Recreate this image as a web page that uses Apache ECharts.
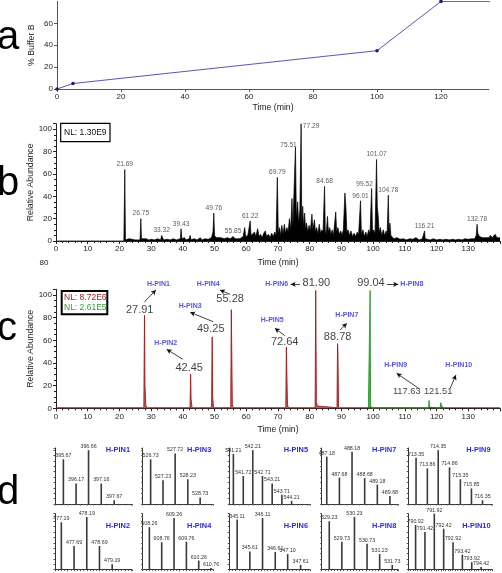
<!DOCTYPE html>
<html><head><meta charset="utf-8">
<script src="https://cdn.jsdelivr.net/npm/echarts@6/dist/echarts.min.js"></script>
<style>html,body{margin:0;padding:0;background:#fff}#c{width:502px;height:573px}</style>
</head><body><div id="c"></div>
<script>
// ---------- Panel a: gradient (% Buffer B vs time) ----------
const gradientTime = [0, 5, 100, 120, 140];
const gradientB = [0, 5, 35, 80, 80];

// ---------- Panel b: base peak chromatogram [time, relative abundance] ----------
const bpcPoints = [[0,0],[21.4,0],[21.69,64],[21.9,1],[22.5,1],[23,2],[23.4,1],[24,1.5],[25,1],[26.5,1],[26.75,20],[26.95,2],[27.5,1],[28.5,2],[29.2,1],[30,1.5],[31,1],[32,2],[33,1],[33.32,5],[33.6,3],[34,1],[35,1.5],[36,1],[37,2],[38,1],[39.2,2],[39.43,11],[39.7,2],[40.5,3],[41,1],[42,2],[42.3,5],[42.6,1],[43.5,2],[44.5,1],[45.5,3],[46,1],[47,2],[48,1.5],[49,3],[49.5,8],[49.76,25],[50,5],[50.5,3],[51,2],[52,3],[53,2],[54,3],[55,2],[55.85,4],[56.5,2],[57,3],[58,2],[59,4],[59.5,12],[59.8,4],[60.5,5],[61.22,18],[61.5,5],[62,4],[62.6,8],[63,4],[63.6,11],[64,4],[64.5,6],[65,3],[65.5,7],[66,9],[66.4,4],[67,6],[67.5,3],[68,7],[68.5,4],[69,8],[69.4,5],[69.79,57],[70.1,6],[70.5,12],[70.8,5],[71.2,14],[71.6,6],[72,15],[72.4,7],[72.8,12],[73.2,8],[73.6,20],[74,10],[74.4,38],[74.7,12],[75.2,58],[75.51,84],[75.8,20],[76.2,35],[76.5,15],[76.9,28],[77.29,105],[77.5,15],[77.8,31],[78.1,12],[78.4,25],[78.7,10],[79,16],[79.4,8],[79.8,14],[80.2,9],[80.7,24],[81,10],[81.5,19],[81.8,8],[82.2,12],[82.6,6],[83,15],[83.4,7],[83.8,10],[84.2,8],[84.68,49],[84.9,10],[85.2,6],[85.6,22],[85.9,8],[86.3,12],[86.7,6],[87.1,10],[87.5,5],[88.2,26],[88.5,8],[88.9,12],[89.3,6],[89.8,9],[90.2,5],[90.6,10],[91.1,43],[91.4,31],[91.7,8],[92.1,10],[92.5,5],[93,9],[93.5,4],[94,7],[94.5,4],[95,8],[95.4,5],[96.01,36],[96.3,6],[96.8,10],[97.2,4],[97.7,8],[98.1,4],[98.6,10],[99,6],[99.52,47],[99.8,8],[100.2,10],[100.6,6],[101.07,73],[101.3,31],[101.6,22],[101.9,8],[102.3,12],[102.7,5],[103.2,10],[103.6,5],[104.1,9],[104.4,6],[104.78,41],[105,8],[105.3,16],[105.6,5],[106,6],[106.5,2],[107.5,3],[108.5,1.5],[109.5,2],[110.5,1],[111.5,2],[112.5,1.5],[113.5,3],[114.5,1],[115.5,2],[116,1],[116.21,9],[116.4,2],[117,2],[118,1],[119,2],[120,1],[121,1.5],[122,1],[123,1.5],[124,1],[125,1.5],[126,1],[127,1.5],[128,1],[129,2],[130,1.5],[131,2],[132,2],[132.5,5],[132.78,15],[133,7],[133.5,4],[134,5],[134.5,3],[135,4],[135.5,3],[136,4],[136.5,3],[137,5],[137.5,3],[138,4],[138.5,6],[139,3],[140,3]];
const bpcLabelTimes = [21.69, 26.75, 33.32, 39.43, 49.76, 55.85, 61.22, 69.79, 75.51, 77.29, 84.68, 96.01, 99.52, 101.07, 104.78, 116.21, 132.78];
const bpcNL = 'NL: 1.30E9';

// ---------- Panel c: extracted ion chromatograms ----------
const redPoints = [[0,0.5],[27.7,0.5],[27.91,82],[28.05,20],[28.3,3],[28.6,0.5],[42.25,0.5],[42.45,30],[42.6,8],[42.9,0.5],[45.0,0.5],[45.15,2],[45.3,0.5],[49.05,0.5],[49.25,63],[49.4,10],[49.7,0.5],[55.1,0.5],[55.28,87],[55.42,50],[55.6,3],[55.9,0.5],[72.45,0.5],[72.64,54],[72.8,30],[73.0,3],[73.3,0.5],[81.7,0.5],[81.9,104],[82.1,6],[82.4,2],[82.8,0.5],[88.6,0.5],[88.78,57],[88.9,49],[89.1,0.5],[140,0.5]];
const greenPoints = [[98.5,0],[98.85,0],[99.04,104],[99.2,3],[99.5,0],[117.45,0],[117.63,7],[117.8,1],[118.0,0],[121.1,0],[121.3,5],[121.51,6],[121.7,2],[122.0,0],[122.5,0]];
const xicPeakTimes = ['27.91','42.45','49.25','55.28','72.64','81.90','88.78','99.04','117.63','121.51'];
const xicPeakNames = ['H-PIN1','H-PIN2','H-PIN3','H-PIN4','H-PIN5','H-PIN6','H-PIN7','H-PIN8','H-PIN9','H-PIN10'];
const xicNL = ['NL: 8.72E6', 'NL: 2.61E5'];

// ---------- Panel d: isotope envelopes (m/z, relative intensity) ----------
const pin1Mz = [395.67, 396.17, 396.66, 397.16, 397.67];            const pin1Int = [83, 38, 100, 38, 7];
const pin2Mz = [477.19, 477.69, 478.19, 478.69, 479.19];            const pin2Int = [88, 44, 98, 44, 10];
const pin3Mz = [526.73, 527.23, 527.72, 528.23, 528.73];            const pin3Int = [83, 44, 94, 46, 12];
const pin4Mz = [608.26, 608.76, 609.26, 609.76, 610.26, 610.76];    const pin4Int = [79, 51, 96, 52, 17, 3];
const pin5Mz = [541.21, 541.72, 542.21, 542.71, 543.21, 543.71, 544.21]; const pin5Int = [93, 52, 100, 52, 38, 17, 6];
const pin6Mz = [345.11, 345.61, 346.11, 346.61, 347.10, 347.61];    const pin6Int = [93, 34, 96, 33, 29, 9];
const pin7Mz = [487.18, 487.68, 488.18, 488.68, 489.18, 489.68];    const pin7Int = [88, 49, 97, 48, 36, 15];
const pin8Mz = [529.23, 529.73, 530.23, 530.73, 531.23, 531.73];    const pin8Int = [90, 52, 98, 48, 29, 9];
const pin9Mz = [713.35, 713.86, 714.35, 714.86, 715.35, 715.85, 716.35]; const pin9Int = [86, 66, 100, 68, 46, 29, 7];
const pin10Mz = [790.92, 791.42, 791.92, 792.42, 792.92, 793.42, 793.92, 794.42]; const pin10Int = [83, 70, 104, 76, 51, 28, 14, 5];

// ---------- layout / styling (not data) ----------
const FONT = '"Liberation Sans", Arial, Helvetica, sans-serif';
const AX = '#222';
const RED = '#a01c1c', GREEN = '#2e9a2e', BLUE = '#2b2bd6';
const cNumberAt = [[26.4,86.8],[42.0,35.3],[48.8,70.0],[54.9,96.5],[72.1,58.8],[82.1,110.3],[88.8,63.2],[99.3,110.3],[110.6,14.7],[120.5,14.7]];
const cNumberSize = [11,11,11,11,11,11,11,11,9.3,9.3];
const cNameAt = [[32.3,109.4],[34.6,57.4],[42.3,90.6],[48.0,109.4],[68.2,77.9],[69.6,109.4],[91.7,82.3],[112.2,109.4],[107.1,38.2],[127.0,38.2]];
const cArrowFrom = [[27.8,93.6],[40.0,43.2],[49.6,76.4],[54.9,100.6],[72.2,64.1],[76.9,109.4],[89.6,69.1],[104.3,109.4],[114.3,17.7],[124.3,17.7]];
const cArrowTo = [[31.5,104.4],[34.9,52.1],[42.3,84.7],[51.7,104.4],[69.0,70.6],[74.0,109.4],[91.7,75.0],[107.9,109.4],[107.4,30.9],[126.1,29.4]];
const bLabelOffset = {'75.51':[-7,3], '77.29':[10,7], '99.52':[-7,1]};
const dCols = [[55,132],[142.7,213.3],[229.3,310],[321.7,398.3],[408.3,492.5]];
const dRows = [[448,504],[513.7,569.7]];
const dRanges = [[395.34,398.37],[476.94,479.97],[526.41,529.26],[607.99,610.85],[541.0,545.16],[344.8,347.98],[486.98,490.01],[528.93,531.97],[713.0,716.8],[790.53,795.03]];

const chart = echarts.init(document.getElementById('c'), null, {renderer:'canvas'});
const grids = [], xAxes = [], yAxes = [], series = [], graphics = [];
function addGrid(g){ grids.push(Object.assign({outerBoundsMode:'none', containLabel:false, show:false}, g)); return grids.length-1; }
const lbl = (o) => Object.assign({fontSize:8, color:'#222', fontFamily:FONT}, o||{});
const nameStyle = {fontSize:8.7, color:'#222', fontFamily:FONT};

// ---- Panel a ----
const ga = addGrid({left:57, top:1.4, width:432, height:87.6});
xAxes.push({type:'value', gridIndex:ga, min:0, max:135, interval:20,
  axisLine:{lineStyle:{color:'#555'}}, axisTick:{length:3, lineStyle:{color:'#555'}},
  axisLabel:lbl({margin:4, showMaxLabel:false}), splitLine:{show:false},
  name:'Time (min)', nameLocation:'middle', nameGap:14, nameMoveOverlap:false, nameTextStyle:nameStyle});
yAxes.push({type:'value', gridIndex:ga, min:0, max:80, interval:20,
  axisLine:{show:true, lineStyle:{color:'#555'}}, axisTick:{show:true, length:3, lineStyle:{color:'#555'}},
  axisLabel:lbl({margin:4, showMaxLabel:false}), splitLine:{show:false},
  name:'% Buffer B', nameLocation:'middle', nameGap:21, nameMoveOverlap:false, nameTextStyle:nameStyle});
series.push({type:'line', xAxisIndex:xAxes.length-1, yAxisIndex:yAxes.length-1, clip:true,
  data: gradientTime.map((t,i)=>[t, gradientB[i]]),
  lineStyle:{color:'#5757b0', width:1}, symbol:'circle', symbolSize:3.5,
  itemStyle:{color:'#1a1a78'}, silent:true});

function timeX(gi, show){
  return {type:'value', gridIndex:gi, min:0, max:140, interval:10, show:show,
    axisLine:{lineStyle:{color:AX}}, axisTick:{length:3, lineStyle:{color:AX}},
    minorTick:{show:true, splitNumber:5, length:2, lineStyle:{color:AX}},
    axisLabel:lbl({margin:4, showMaxLabel:false}), splitLine:{show:false}, minorSplitLine:{show:false},
    name:'Time (min)', nameLocation:'middle', nameGap:17, nameMoveOverlap:false, nameTextStyle:nameStyle};
}
function abundY(gi){
  return {type:'value', gridIndex:gi, min:0, max:105, interval:20,
    axisLine:{show:true, lineStyle:{color:AX}}, axisTick:{show:true, length:3, lineStyle:{color:AX}},
    minorTick:{show:true, splitNumber:4, length:2, lineStyle:{color:AX}},
    axisLabel:lbl({margin:4, showMaxLabel:false}), splitLine:{show:false}, minorSplitLine:{show:false},
    name:'Relative Abundance', nameLocation:'middle', nameGap:21, nameMoveOverlap:false, nameTextStyle:nameStyle};
}

// ---- Panel b ----
const gb = addGrid({left:56, top:123.7, width:444, height:117.3});
xAxes.push(timeX(gb, true)); yAxes.push(abundY(gb));
const bx = xAxes.length-1, by = yAxes.length-1;
series.push({type:'line', xAxisIndex:bx, yAxisIndex:by, data:bpcPoints, symbol:'none', silent:true,
  lineStyle:{color:'#000', width:0.7}, areaStyle:{color:'#000', opacity:1}});
series.push({type:'scatter', xAxisIndex:bx, yAxisIndex:by, symbolSize:1, itemStyle:{color:'rgba(0,0,0,0)'}, silent:true, clip:false,
  data: bpcLabelTimes.map(t=>{
    const p = bpcPoints.find(q=>Math.abs(q[0]-t)<1e-6);
    const key = t.toFixed(2);
    const it = {name:key, value:[t, p ? p[1] : 0]};
    if (bLabelOffset[key]) it.label = {offset:bLabelOffset[key]};
    return it;
  }),
  label:{show:true, position:'top', distance:1, formatter:'{b}', fontSize:6.6, color:'#333', fontFamily:FONT}});

// ---- Panel c ----
const gc = addGrid({left:56, top:289.3, width:444, height:119});
xAxes.push(timeX(gc, true)); yAxes.push(abundY(gc));
const cx = xAxes.length-1, cy = yAxes.length-1;
series.push({type:'line', xAxisIndex:cx, yAxisIndex:cy, data:greenPoints, symbol:'none', silent:true,
  lineStyle:{color:GREEN, width:0.9}, areaStyle:{color:GREEN, opacity:0.85}});
series.push({type:'line', xAxisIndex:cx, yAxisIndex:cy, data:redPoints, symbol:'none', silent:true,
  lineStyle:{color:RED, width:0.9}, areaStyle:{color:'#b43a3a', opacity:0.85}});

const gca = addGrid({left:56, top:278.0, width:444, height:130.3});
xAxes.push({type:'value', gridIndex:gca, min:0, max:140, show:false});
yAxes.push({type:'value', gridIndex:gca, min:0, max:115, show:false});
const ax = xAxes.length-1, ay = yAxes.length-1;
series.push({type:'scatter', xAxisIndex:ax, yAxisIndex:ay, symbolSize:1, clip:false, silent:true,
  itemStyle:{color:'rgba(0,0,0,0)'},
  data: xicPeakTimes.map((t,i)=>({name:t, value:cNumberAt[i], label:{fontSize:cNumberSize[i]}})),
  label:{show:true, position:'inside', formatter:'{b}', fontSize:11, color:'#111', fontFamily:FONT}});
series.push({type:'scatter', xAxisIndex:ax, yAxisIndex:ay, symbolSize:1, clip:false, silent:true,
  itemStyle:{color:'rgba(0,0,0,0)'},
  data: xicPeakNames.map((n,i)=>({name:n, value:cNameAt[i]})),
  label:{show:true, position:'inside', formatter:'{b}', fontSize:7, fontWeight:'bold', color:BLUE, fontFamily:FONT},
  markLine:{silent:true, symbol:['none','arrow'], symbolSize:[4,5], animation:false,
    label:{show:false}, lineStyle:{color:'#111', width:0.8, type:'solid'},
    emphasis:{disabled:true},
    data: cArrowFrom.map((f,i)=>[{coord:f}, {coord:cArrowTo[i]}])}});

// ---- Panel d ----
const pinMz = [pin1Mz,pin2Mz,pin3Mz,pin4Mz,pin5Mz,pin6Mz,pin7Mz,pin8Mz,pin9Mz,pin10Mz];
const pinInt = [pin1Int,pin2Int,pin3Int,pin4Int,pin5Int,pin6Int,pin7Int,pin8Int,pin9Int,pin10Int];
pinMz.forEach((mz, i)=>{
  const col = Math.floor(i/2), row = i%2;
  const [l, r] = dCols[col], [t, b] = dRows[row];
  const g = addGrid({left:l, top:t, width:r-l, height:b-t});
  xAxes.push({type:'value', gridIndex:g, min:dRanges[i][0], max:dRanges[i][1], interval:0.25,
    axisLine:{lineStyle:{color:'#333', width:1}}, axisTick:{length:1.5, lineStyle:{color:'#555'}},
    minorTick:{show:true, splitNumber:2, length:1.2, lineStyle:{color:'#555'}},
    axisLabel:{show:false}, splitLine:{show:false}, minorSplitLine:{show:false}});
  yAxes.push({type:'value', gridIndex:g, min:0, max:104, interval:10,
    axisLine:{show:true, lineStyle:{color:'#333', width:1}}, axisTick:{show:true, length:1.5, lineStyle:{color:'#555'}},
    axisLabel:{show:false}, splitLine:{show:false}});
  series.push({type:'bar', xAxisIndex:xAxes.length-1, yAxisIndex:yAxes.length-1, barWidth:1.6, clip:false, silent:true,
    data: mz.map((m,k)=>[m, pinInt[i][k]]),
    itemStyle:{color:'#3a3a3a'},
    label:{show:true, position:'top', distance:1, fontSize:5.3, color:'#333', fontFamily:FONT,
      formatter:(p)=>p.value[0].toFixed(2)}});
  graphics.push({type:'text', z:50, x:r-2, y: row===0 ? t+1.5 : t+12.6,
    style:{text:xicPeakNames[i], font:'bold 7.4px '+FONT, fill:BLUE, textAlign:'right', textVerticalAlign:'middle'}});
});

// ---- panel letters, NL boxes, stray label ----
[['a',37.7],['b',184],['c',329],['d',492.7]].forEach(([ch,y])=>{
  graphics.push({type:'text', z:50, x:-3, y:y, style:{text:ch, font:'40px '+FONT, fill:'#000', textAlign:'left', textVerticalAlign:'middle'}});
});
graphics.push({type:'rect', z:40, shape:{x:60.7, y:123.3, width:49.3, height:18.4}, style:{fill:'#fff', stroke:'#000', lineWidth:1.2}});
graphics.push({type:'text', z:41, x:64, y:132.7, style:{text:bpcNL, font:'8.5px '+FONT, fill:'#111', textVerticalAlign:'middle'}});
graphics.push({type:'rect', z:40, shape:{x:61.7, y:291, width:45.6, height:23.3}, style:{fill:'#fff', stroke:'#000', lineWidth:2}});
graphics.push({type:'text', z:41, x:64, y:297.3, style:{text:xicNL[0], font:'8.5px '+FONT, fill:RED, textVerticalAlign:'middle'}});
graphics.push({type:'text', z:41, x:64, y:308, style:{text:xicNL[1], font:'8.5px '+FONT, fill:GREEN, textVerticalAlign:'middle'}});
graphics.push({type:'text', z:41, x:44, y:262.7, style:{text:'80', font:'8px '+FONT, fill:'#222', textAlign:'center', textVerticalAlign:'middle'}});

chart.setOption({
  animation:false,
  textStyle:{fontFamily:FONT},
  grid:grids, xAxis:xAxes, yAxis:yAxes, series:series, graphic:graphics
});
</script></body></html>
